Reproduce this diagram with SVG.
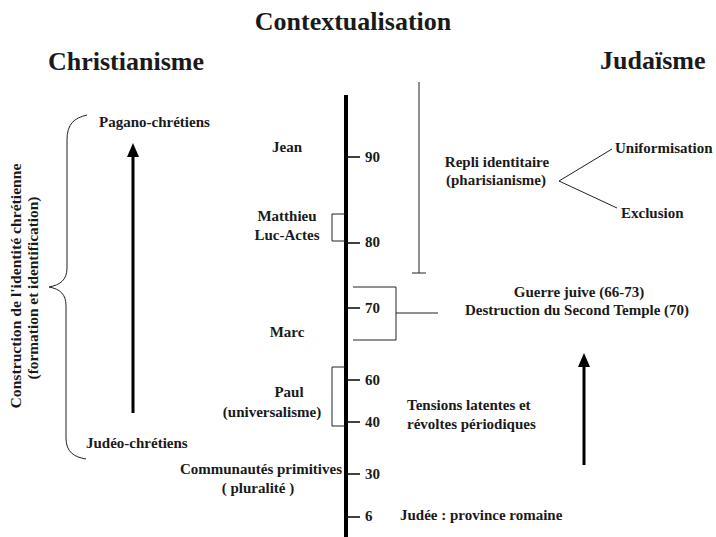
<svg xmlns="http://www.w3.org/2000/svg" width="716" height="537" viewBox="0 0 716 537" font-family="Liberation Serif, DejaVu Serif, serif" font-weight="bold">
<style>
  text { font-family: 'Liberation Serif', 'DejaVu Serif', serif; font-weight: 700; fill: #1a1a1a; }
  .title { font-size: 26px; }
  .lbl { font-size: 15px; }
  .tick { font-size: 15px; }
  .rot { font-size: 14px; }
  .thin { stroke: #222; stroke-width: 1; fill: none; }
  .med { stroke: #111; stroke-width: 1.6; fill: none; }
  .axis { stroke: #000; stroke-width: 4; fill: none; }
  .arrow { stroke: #000; stroke-width: 3; fill: none; }
  .head { fill: #000; }
</style>
<rect width="716" height="537" fill="#fff"/>

<g id="titles">
  <text class="title" x="353" y="30" text-anchor="middle">Contextualisation</text>
  <text class="title" x="48" y="70">Christianisme</text>
  <text class="title" x="600" y="69">Judaïsme</text>
</g>

<g id="connectors">
  <line class="axis" x1="346" y1="95" x2="346" y2="537"/>
  <line class="med" x1="346" y1="157" x2="360" y2="157"/>
  <line class="med" x1="346" y1="243" x2="360" y2="243"/>
  <line class="med" x1="346" y1="308" x2="360" y2="308"/>
  <line class="med" x1="346" y1="380" x2="360" y2="380"/>
  <line class="med" x1="346" y1="422" x2="360" y2="422"/>
  <line class="med" x1="346" y1="474" x2="360" y2="474"/>
  <line class="med" x1="346" y1="517" x2="360" y2="517"/>
  <polyline class="thin" points="345,214 332,214 332,241 345,241"/>
  <polyline class="thin" points="345,367 332,367 332,426 345,426"/>
  <polyline class="thin" points="353,287 396,287 396,340 353,340"/>
  <line class="thin" x1="396" y1="313" x2="438" y2="313"/>
  <line class="thin" x1="419" y1="82" x2="419" y2="273"/>
  <line class="thin" x1="412" y1="273" x2="426" y2="273"/>
  <polyline class="thin" points="612,149 559,181 617,208"/>
  <line class="arrow" x1="133" y1="413" x2="133" y2="154"/>
  <polygon class="head" points="133,143 127,157 139,157"/>
  <line class="arrow" x1="584" y1="465" x2="584" y2="364"/>
  <polygon class="head" points="584,353 578,367 590,367"/>
  <path class="thin" d="M87,115 C74,118 67,124 67,140 L67,268 C67,280 60,285 49,287 C60,289 66,294 66,306 L66,438 C66,452 74,457 86,459"/>
</g>

<g id="brace-label">
  <text class="rot" transform="translate(21,286) rotate(-90)" text-anchor="middle" textLength="245" lengthAdjust="spacingAndGlyphs">Construction de l'identité chrétienne</text>
  <text class="rot" transform="translate(38,288) rotate(-90)" text-anchor="middle" textLength="183" lengthAdjust="spacingAndGlyphs">(formation et identification)</text>
</g>

<g id="ticks-labels">
  <text class="tick" x="365" y="162">90</text>
  <text class="tick" x="365" y="247">80</text>
  <text class="tick" x="365" y="313">70</text>
  <text class="tick" x="365" y="385">60</text>
  <text class="tick" x="365" y="427">40</text>
  <text class="tick" x="365" y="479">30</text>
  <text class="tick" x="365" y="521">6</text>
</g>

<g id="pagano"><text class="lbl" x="99" y="127">Pagano-chrétiens</text></g>
<g id="judeo"><text class="lbl" x="86" y="448">Judéo-chrétiens</text></g>
<g id="jean"><text class="lbl" x="287" y="152" text-anchor="middle">Jean</text></g>
<g id="matthieu">
  <text class="lbl" x="287" y="221" text-anchor="middle">Matthieu</text>
  <text class="lbl" x="287" y="240" text-anchor="middle">Luc-Actes</text>
</g>
<g id="marc"><text class="lbl" x="287" y="337" text-anchor="middle">Marc</text></g>
<g id="paul">
  <text class="lbl" x="289" y="397" text-anchor="middle">Paul</text>
  <text class="lbl" x="272" y="417" text-anchor="middle">(universalisme)</text>
</g>
<g id="communautes">
  <text class="lbl" x="342" y="474" text-anchor="end">Communautés primitives</text>
  <text class="lbl" x="258" y="493" text-anchor="middle">( pluralité )</text>
</g>

<g id="repli">
  <text class="lbl" x="497" y="167" text-anchor="middle">Repli identitaire</text>
  <text class="lbl" x="496" y="185" text-anchor="middle">(pharisianisme)</text>
</g>
<g id="uniformisation"><text class="lbl" x="615" y="153">Uniformisation</text></g>
<g id="exclusion"><text class="lbl" x="621" y="218">Exclusion</text></g>
<g id="guerre">
  <text class="lbl" x="579" y="297" text-anchor="middle">Guerre juive (66-73)</text>
  <text class="lbl" x="577" y="315" text-anchor="middle">Destruction du Second Temple (70)</text>
</g>
<g id="tensions">
  <text class="lbl" x="407" y="410">Tensions latentes et</text>
  <text class="lbl" x="407" y="429">révoltes périodiques</text>
</g>
<g id="judee"><text class="lbl" x="400" y="520">Judée : province romaine</text></g>
</svg>
